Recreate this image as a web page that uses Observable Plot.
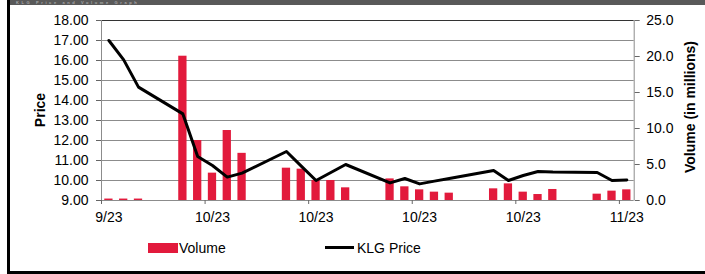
<!DOCTYPE html>
<html><head><meta charset="utf-8">
<script src="https://cdn.jsdelivr.net/npm/d3@7"></script>
<script src="https://cdn.jsdelivr.net/npm/@observablehq/plot@0.6"></script>
<style>
body{margin:0;background:#fff;font-family:"Liberation Sans",Arial,sans-serif;}
#wrap{position:relative;width:705px;height:274px;overflow:hidden;background:#fff}
.layer{position:absolute;left:0;top:0}
#hdr{position:absolute;left:10px;top:0;width:695px;height:5px;background:#595959;overflow:hidden}
#hdr span{position:absolute;left:6px;top:0px;color:#a8a8a8;font-weight:bold;font-size:4px;line-height:5px;letter-spacing:2.6px;white-space:nowrap}
#bl{position:absolute;left:7px;top:0;width:3px;height:274px;background:#000}
#bb{position:absolute;left:7px;top:271px;width:698px;height:3px;background:#000}
.ylab{position:absolute;font-weight:bold;font-size:14px;white-space:nowrap;transform:translate(-50%,-50%) rotate(-90deg);color:#000}
.leg{position:absolute;font-size:14px;color:#000;line-height:14px}
</style></head><body>
<div id="wrap">
  <div id="hdr"><span>KLG Price and Volume Graph</span></div>
  <div id="bl"></div><div id="bb"></div>
  <div id="layers"></div>
  <div class="ylab" style="left:40px;top:110px">Price</div>
  <div class="ylab" style="left:690px;top:107px">Volume (in millions)</div>
  <div style="position:absolute;left:148px;top:243px;width:30px;height:10px;background:#e21a3c"></div>
  <div class="leg" style="left:179px;top:241px">Volume</div>
  <div style="position:absolute;left:325px;top:246px;width:29px;height:3px;background:#000"></div>
  <div class="leg" style="left:357px;top:241px">KLG Price</div>
</div>
<script>
const dates = ["2023-09-27","2023-09-28","2023-09-29","2023-10-02","2023-10-03","2023-10-04","2023-10-05","2023-10-06",
  "2023-10-09","2023-10-10","2023-10-11","2023-10-12","2023-10-13","2023-10-16","2023-10-17","2023-10-18","2023-10-19","2023-10-20",
  "2023-10-23","2023-10-24","2023-10-25","2023-10-26","2023-10-27","2023-10-30","2023-10-31","2023-11-01"];
const prices = [17.00,16.03,14.67,13.33,11.20,10.75,10.17,10.37,
  11.45,10.72,10.00,10.40,10.80,9.88,10.10,9.83,9.97,10.10,
  10.50,10.00,10.25,10.45,10.42,10.40,10.00,10.03];
const volumes = [0.2,0.2,0.2,20.04,8.33,3.8,9.72,6.55,
  4.49,4.35,2.78,2.78,1.76,3.0,1.9,1.48,1.16,1.02,
  1.62,2.31,1.16,0.83,1.53,0.88,1.3,1.48];
const tickDates = ["2023-09-27","2023-10-04","2023-10-11","2023-10-18","2023-10-25","2023-11-01"];
const priceTicks = [9,10,11,12,13,14,15,16,17,18];
const volumeTicks = [0,5,10,15,20,25];

const DAY = 864e5, HALF = DAY/2, BARHALF = DAY*0.28;
const data = dates.map((d,i)=>{const t=new Date(d+"T00:00:00Z");return {date:t,x1:new Date(+t-BARHALF),x2:new Date(+t+BARHALF),price:prices[i],volume:volumes[i]};});
const tDates = tickDates.map(d=>new Date(d+"T00:00:00Z"));
const tBounds = tDates.map(d=>new Date(+d-HALF));
const xDomain = [new Date(+tDates[0]-HALF), new Date(+tDates[tDates.length-1]+HALF)];
const FONT = '"Liberation Sans",Arial,sans-serif';
const common = {width:705,height:230,marginLeft:101,marginRight:71.3,marginTop:20,marginBottom:30,
  style:{background:"transparent",fontFamily:FONT,fontSize:"14px",color:"#000",overflow:"visible"}};
const GRID = "#8c8c8c";

const layerA = Plot.plot({...common,
  x:{type:"utc",domain:xDomain},
  y:{domain:[9,18]},
  marks:[
    Plot.ruleY(priceTicks.filter(t=>t>9&&t<18),{stroke:GRID,strokeWidth:1}),
    Plot.ruleY([18],{stroke:"#333",strokeWidth:1}),
    Plot.ruleY([9],{stroke:GRID,strokeWidth:1}),
    Plot.ruleX([xDomain[0]],{stroke:GRID}),
    Plot.ruleX([xDomain[1]],{stroke:GRID}),
    Plot.axisY({ticks:priceTicks,tickFormat:d=>d.toFixed(2),tickSize:5,tickPadding:8,label:null,stroke:"#666",fill:"#000"}),
    Plot.axisX({ticks:tBounds,tickFormat:()=>"",tickSize:4,label:null,stroke:"#666"}),
    Plot.axisX({ticks:tDates,tickFormat:d3.utcFormat("%-m/%y"),tickSize:0,tickPadding:12,label:null,fill:"#000"})
  ]});

const layerB = Plot.plot({...common,
  x:{type:"utc",domain:xDomain,axis:null},
  y:{domain:[0,25]},
  marks:[
    Plot.rectY(data,{x1:"x1",x2:"x2",y1:0,y2:"volume",fill:"#e21a3c"}),
    Plot.axisY({anchor:"right",ticks:volumeTicks,tickFormat:d=>d.toFixed(1),tickSize:5,tickPadding:7,label:null,stroke:"#666",fill:"#000"})
  ]});

const layerC = Plot.plot({...common,
  x:{type:"utc",domain:xDomain,axis:null},
  y:{domain:[9,18],axis:null},
  marks:[
    Plot.line(data,{x:"date",y:"price",stroke:"#000",strokeWidth:3,strokeLinejoin:"round"})
  ]});

const host = document.getElementById("layers");
for (const el of [layerA,layerB,layerC]) { el.classList.add("layer"); el.style.position="absolute"; el.style.left="0"; el.style.top="0"; host.appendChild(el); }
</script>
</body></html>
